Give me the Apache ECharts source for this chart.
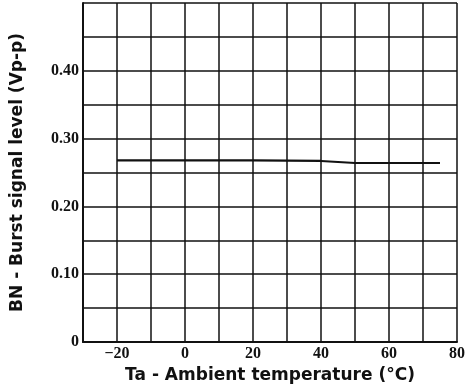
<!DOCTYPE html>
<html>
<head>
<meta charset="utf-8">
<script src="https://cdn.jsdelivr.net/npm/echarts@6/dist/echarts.min.js"></script>
<style>
  html, body { margin: 0; padding: 0; background: #fff; }
  #chart { width: 475px; height: 390px; }
</style>
</head>
<body>
<div id="chart"></div>
<script>
const temperatures = [-20, 0, 20, 40, 50, 60, 75];
const burstLevels = [0.268, 0.268, 0.268, 0.267, 0.264, 0.264, 0.264];
const xTickLabels = [-20, 0, 20, 40, 60, 80];
const yTickLabels = { 0: "0", 0.1: "0.10", 0.2: "0.20", 0.3: "0.30", 0.4: "0.40" };

const chart = echarts.init(document.getElementById("chart"));

const tickFont = {
  color: "#111",
  fontFamily: "Liberation Serif",
  fontWeight: "bold",
  fontSize: 16
};
const nameFont = {
  color: "#111",
  fontFamily: "DejaVu Sans",
  fontWeight: "bold",
  fontSize: 17
};
const gridLine = { lineStyle: { color: "#111", width: 1.5 } };

chart.setOption({
  backgroundColor: "#fff",
  animation: false,
  grid: { left: 83, top: 3, right: 18, bottom: 48 },
  xAxis: {
    type: "value",
    min: -30,
    max: 80,
    interval: 10,
    name: "Ta - Ambient temperature (°C)",
    nameLocation: "middle",
    nameGap: 19,
    nameTextStyle: nameFont,
    axisLine: { show: true, onZero: false, lineStyle: { color: "#111", width: 2 } },
    axisTick: { show: false },
    axisLabel: Object.assign({}, tickFont, {
      margin: 4,
      formatter: (v) => (xTickLabels.includes(v) ? (v < 0 ? "\u2212" + Math.abs(v) : String(v)) : "")
    }),
    splitLine: gridLine
  },
  yAxis: {
    type: "value",
    min: 0,
    max: 0.5,
    interval: 0.05,
    name: "BN - Burst signal level (Vp-p)",
    nameLocation: "middle",
    nameGap: 57,
    nameTextStyle: nameFont,
    axisLine: { show: true, onZero: false, lineStyle: { color: "#111", width: 2 } },
    axisTick: { show: false },
    axisLabel: Object.assign({}, tickFont, {
      margin: 4,
      formatter: (v) => {
        const key = Math.round(v * 100) / 100;
        return yTickLabels[key] !== undefined ? yTickLabels[key] : "";
      }
    }),
    splitLine: gridLine
  },
  series: [
    {
      type: "line",
      data: temperatures.map((t, i) => [t, burstLevels[i]]),
      symbol: "none",
      lineStyle: { color: "#111", width: 2.2 }
    }
  ]
});
</script>
</body>
</html>
